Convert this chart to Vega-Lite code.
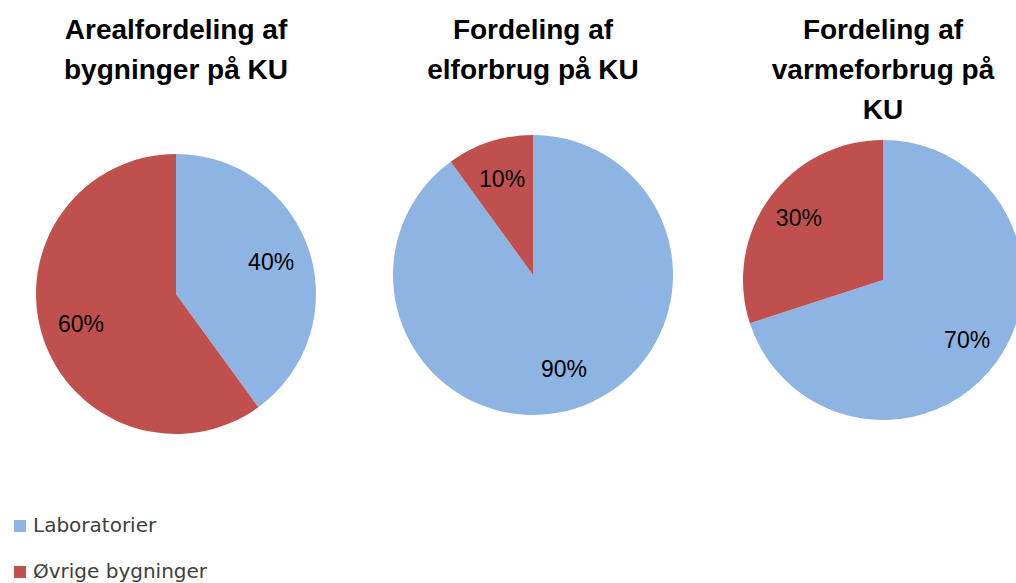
{
  "$schema": "https://vega.github.io/schema/vega-lite/v6.json",
  "padding": {"left": 10, "top": 17, "right": 0, "bottom": 0},
  "background": "white",
  "spacing": 70,
  "data": {"values": [
    {"chart": "areal", "kategori": "Laboratorier", "andel": 0.4},
    {"chart": "areal", "kategori": "Øvrige bygninger", "andel": 0.6},
    {"chart": "el", "kategori": "Laboratorier", "andel": 0.9},
    {"chart": "el", "kategori": "Øvrige bygninger", "andel": 0.1},
    {"chart": "varme", "kategori": "Laboratorier", "andel": 0.7},
    {"chart": "varme", "kategori": "Øvrige bygninger", "andel": 0.3}
  ]},
  "config": {
    "view": {"stroke": null},
    "title": {"font": "Liberation Sans", "fontSize": 28, "fontWeight": "bold", "color": "#000000", "lineHeight": 40, "anchor": "middle"}
  },
  "resolve": {"scale": {"color": "shared"}, "legend": {"color": "shared"}},
  "hconcat": [
    {
      "width": 294, "height": 326,
      "title": {"text": ["Arealfordeling af", "bygninger på KU"], "offset": 46},
      "transform": [{"filter": "datum.chart === 'areal'"}],
      "encoding": {
        "theta": {"field": "andel", "type": "quantitative", "stack": true},
        "color": {"field": "kategori", "type": "nominal", "sort": ["Laboratorier", "Øvrige bygninger"],
          "scale": {"domain": ["Laboratorier", "Øvrige bygninger"], "range": ["#8EB4E3", "#C0504D"]},
          "legend": {"title": null, "orient": "none", "legendX": -19, "legendY": 385, "padding": 0, "labelFont": "DejaVu Sans", "labelFontSize": 20, "labelLimit": 0, "labelColor": "#404040", "symbolType": "square", "symbolSize": 144, "rowPadding": 26, "labelOffset": 3, "symbolStrokeWidth": 0,
            "encode": {"symbols": {
              "enter": {"fill": {"signal": "datum.value === 'Laboratorier' ? '#4A7EBB' : '#BE4B48'"}},
              "update": {"fill": {"signal": "datum.value === 'Laboratorier' ? '#4A7EBB' : '#BE4B48'"}, "opacity": {"value": 1}}}}}
        },
        "order": {"field": "kategori", "sort": "ascending"}
      },
      "layer": [
        {"mark": {"type": "arc", "radius": 140}},
        {"mark": {"type": "text", "radius": 100, "font": "Liberation Sans", "fontSize": 23},
          "encoding": {"text": {"field": "andel", "type": "quantitative", "format": ".0%"}, "color": {"value": "#000000"}}}
      ]
    },
    {
      "width": 252, "height": 288,
      "title": {"text": ["Fordeling af", "elforbrug på KU"], "offset": 46},
      "transform": [{"filter": "datum.chart === 'el'"}],
      "encoding": {
        "theta": {"field": "andel", "type": "quantitative", "stack": true},
        "color": {"field": "kategori", "type": "nominal", "sort": ["Laboratorier", "Øvrige bygninger"]},
        "order": {"field": "kategori", "sort": "ascending"}
      },
      "layer": [
        {"mark": {"type": "arc", "radius": 140}},
        {"mark": {"type": "text", "radius": 100, "font": "Liberation Sans", "fontSize": 23},
          "encoding": {"text": {"field": "andel", "type": "quantitative", "format": ".0%"}, "color": {"value": "#000000"}}}
      ]
    },
    {
      "width": 252, "height": 298,
      "title": {"text": ["Fordeling af", "varmeforbrug på", "KU"], "offset": 6},
      "transform": [{"filter": "datum.chart === 'varme'"}],
      "encoding": {
        "theta": {"field": "andel", "type": "quantitative", "stack": true},
        "color": {"field": "kategori", "type": "nominal", "sort": ["Laboratorier", "Øvrige bygninger"]},
        "order": {"field": "kategori", "sort": "ascending"}
      },
      "layer": [
        {"mark": {"type": "arc", "radius": 140}},
        {"mark": {"type": "text", "radius": 104, "font": "Liberation Sans", "fontSize": 23},
          "encoding": {"text": {"field": "andel", "type": "quantitative", "format": ".0%"}, "color": {"value": "#000000"}}}
      ]
    }
  ]
}
